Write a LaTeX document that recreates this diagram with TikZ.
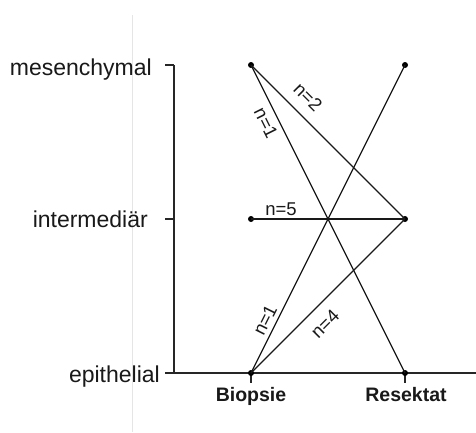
\documentclass[tikz,border=0pt]{standalone}
\usepackage{fontspec}
\setmainfont{Liberation Sans}
\begin{document}
\begin{tikzpicture}[x=1pt,y=-1pt,
  axislab/.style={font=\fontsize{23}{26}\selectfont, text=black!90, inner sep=0pt, anchor=base east},
  grouplab/.style={font=\fontsize{19.5}{22}\selectfont\bfseries, text=black!90, inner sep=0pt, anchor=base},
  nlab/.style={font=\fontsize{18.5}{22}\selectfont, text=black!90, inner sep=0pt},
  conn/.style={line width=1.3pt, black!90},
  axisline/.style={line width=1.4pt, black!85},
  dot/.style={circle, fill=black, inner sep=0pt, minimum size=6pt}]
\useasboundingbox (0,0) rectangle (476,432);
\fill[white] (0,0) rectangle (476,432);
% faint guide line
\draw[line width=1pt, black!10] (132.5,15) -- (132.5,432);
% axes
\coordinate (ytop) at (174,65);
\coordinate (ybot) at (174,373);
\coordinate (xstart) at (165,373);
\coordinate (xend) at (476,373);
\draw[axisline] (ytop) -- (ybot);
\draw[axisline] (xstart) -- (xend);
\coordinate (t1a) at (165,65);  \coordinate (t1b) at (174,65);
\coordinate (t2a) at (165,219); \coordinate (t2b) at (174,219);
\draw[axisline] (t1a) -- (t1b);
\draw[axisline] (t2a) -- (t2b);
\coordinate (tb1) at (251,373); \coordinate (tb2) at (251,383);
\coordinate (tr1) at (405,373); \coordinate (tr2) at (405,383);
\draw[axisline] (tb1) -- (tb2);
\draw[axisline] (tr1) -- (tr2);
% axis labels
\node[axislab] (lm) at (152,75) {mesenchymal};
\node[axislab] (li) at (148,227) {intermediär};
\node[axislab] (le) at (160,382) {epithelial};
\node[grouplab] (lb) at (251,401) {Biopsie};
\node[grouplab] (lr) at (406,401) {Resektat};
% points
\node[dot] (Bm) at (251,65) {};
\node[dot] (Bi) at (251,219) {};
\node[dot] (Be) at (251,373) {};
\node[dot] (Rm) at (405,65) {};
\node[dot] (Ri) at (405,219) {};
\node[dot] (Re) at (405,373) {};
% connections
\draw[conn] (Bm.center) -- (Ri.center);
\draw[conn] (Bm.center) -- (Re.center);
\draw[conn] (Bi.center) -- (Ri.center);
\draw[conn] (Be.center) -- (Rm.center);
\draw[conn] (Be.center) -- (Ri.center);
% counts
\node[nlab, rotate=-45] (n2) at (308,97) {n=2};
\node[nlab, rotate=-63.4] (n1a) at (266,123) {n=1};
\node[nlab] (n5) at (281,209) {n=5};
\node[nlab, rotate=63.4] (n1b) at (265,320) {n=1};
\node[nlab, rotate=45] (n4) at (325,324) {n=4};
\end{tikzpicture}
\end{document}
